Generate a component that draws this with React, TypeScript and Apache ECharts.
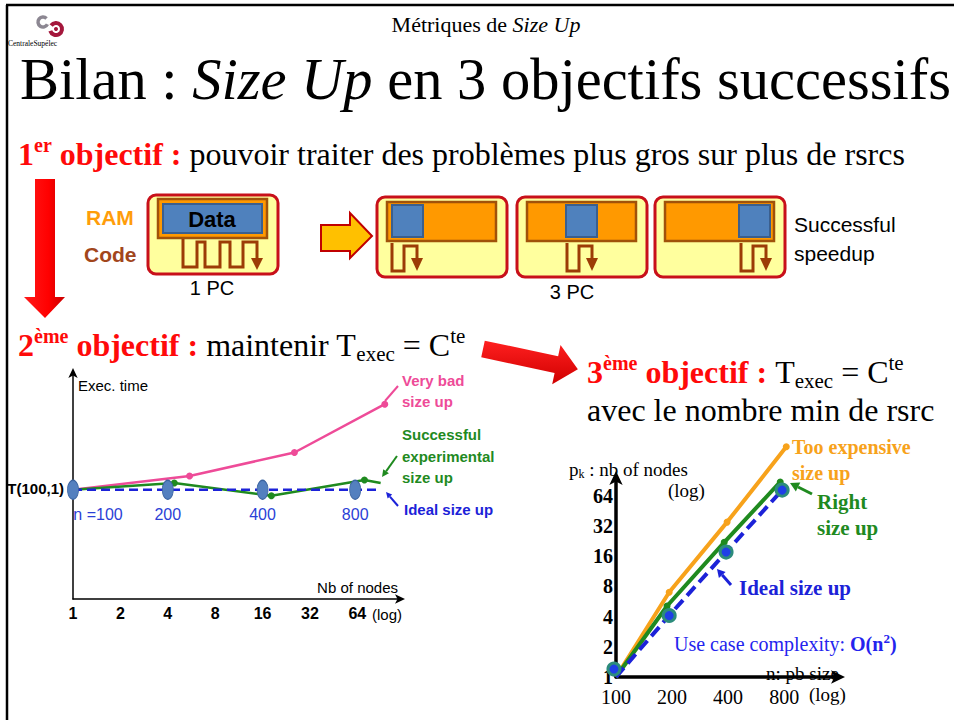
import React, { useEffect, useRef } from 'react';
import * as echarts from 'echarts';

const SERIF = '"Liberation Serif", "Times New Roman", serif';
const SANS = '"Liberation Sans", Arial, sans-serif';

// ---- Left chart: execution time vs number of nodes (log2) ----
const leftNodeTicks = [1, 2, 4, 8, 16, 32, 64];
const idealNodes = [1, 4, 16, 62];
const idealTime = [1, 1, 1, 1];
const idealSizeLabels = ['n =100', '200', '400', '800'];
const idealEndNodes = 90;
const veryBadNodes = [1, 5.5, 25.5, 95.6];
const veryBadTime = [1, 1.126, 1.342, 1.784];
const expNodes = [1, 4.4, 18.2, 71, 90];
const expTime = [1, 1.063, 0.946, 1.09, 1.063];

// ---- Right chart: nodes vs problem size (log2 / log2) ----
const sizeTicks = [100, 200, 400, 800];
const nodeTicks = [1, 2, 4, 8, 16, 32, 64];
const expensiveSize = [100, 193, 395, 821];
const expensiveNodes = [1, 7, 35, 197];
const rightSize = [100, 188, 381, 762];
const rightNodes = [1, 5.1, 22, 88];
const idealLineSize = [100, 193, 390, 780];
const idealLineNodes = [1, 4.1, 17.6, 73];
const idealMarkSize = [97.5, 193, 390, 780];
const idealMarkNodes = [1.2, 4.1, 17.6, 73];

const PINK = '#ee4b98';
const GREEN = '#1f8a1f';
const BLUE = '#1c22d8';
const ORANGE = '#f7a21b';
const RED = '#ff0a0a';

let ctx: CanvasRenderingContext2D | null = null;
function measure(text: string, font: string) {
  if (!ctx) ctx = document.createElement('canvas').getContext('2d');
  ctx!.font = font;
  return ctx!.measureText(text).width;
}

type Run = { t: string; size: number; weight?: string; style?: string; fill?: string; dy?: number; family?: string };

function runs(g: any[], x: number, y: number, list: Run[]) {
  let cx = x;
  for (const r of list) {
    const fam = r.family || SERIF;
    const font = `${r.style || 'normal'} ${r.weight || 'normal'} ${r.size}px ${fam}`;
    const lead = r.t.length - r.t.trimStart().length;
    const leadW = lead ? measure(r.t.slice(0, lead), font) : 0;
    g.push({
      type: 'text',
      x: cx + leadW,
      y: y + (r.dy || 0),
      style: {
        text: r.t.trim(),
        fontSize: r.size,
        fontWeight: r.weight || 'normal',
        fontStyle: r.style || 'normal',
        fontFamily: fam,
        fill: r.fill || '#000',
        align: 'left',
        verticalAlign: 'middle',
      },
    });
    cx += measure(r.t, font);
  }
  return cx;
}

function runsWidth(list: Run[]) {
  let w = 0;
  for (const r of list) {
    const fam = r.family || SERIF;
    w += measure(r.t, `${r.style || 'normal'} ${r.weight || 'normal'} ${r.size}px ${fam}`);
  }
  return w;
}

function txt(x: number, y: number, text: string, o: any = {}) {
  return {
    type: 'text',
    x,
    y,
    z: o.z ?? 1,
    style: {
      text,
      fontSize: o.size || 16,
      fontWeight: o.weight || 'normal',
      fontStyle: o.style || 'normal',
      fontFamily: o.family || SANS,
      fill: o.fill || '#000',
      align: o.align || 'left',
      verticalAlign: 'middle',
    },
  };
}

function arrow(g: any[], x1: number, y1: number, x2: number, y2: number, color: string, w: number, hl: number, hw: number) {
  const dx = x2 - x1, dy = y2 - y1;
  const len = Math.sqrt(dx * dx + dy * dy);
  const ux = dx / len, uy = dy / len;
  const bx = x2 - ux * hl, by = y2 - uy * hl;
  g.push({ type: 'line', shape: { x1, y1, x2: bx, y2: by }, style: { stroke: color, lineWidth: w } });
  g.push({
    type: 'polygon',
    shape: { points: [[x2, y2], [bx - uy * hw, by + ux * hw], [bx + uy * hw, by - ux * hw]] },
    style: { fill: color },
  });
}

function buildOption() {
  const g: any[] = [];

  // slide frame
  g.push({ type: 'line', shape: { x1: 7, y1: 5, x2: 7, y2: 720 }, style: { stroke: '#000', lineWidth: 2.5 } });
  g.push({ type: 'line', shape: { x1: 6, y1: 5, x2: 954, y2: 5 }, style: { stroke: '#000', lineWidth: 2.5 } });

  // logo
  g.push({ type: 'arc', shape: { cx: 43, cy: 22, r: 5, startAngle: Math.PI * 0.15, endAngle: Math.PI * 1.75 }, style: { stroke: '#8c8792', lineWidth: 3.5, fill: 'none' } });
  g.push({ type: 'arc', shape: { cx: 56, cy: 29, r: 6, startAngle: Math.PI * 1.2, endAngle: Math.PI * 2.9 }, style: { stroke: '#a4173c', lineWidth: 4, fill: 'none' } });
  g.push({ type: 'circle', shape: { cx: 56, cy: 29, r: 2 }, style: { fill: '#a4173c' } });
  g.push(txt(8, 43, 'CentraleSupélec', { size: 7.5, family: SERIF }));

  // header
  const head: Run[] = [{ t: 'Métriques de ', size: 22 }, { t: 'Size Up', size: 22, style: 'italic' }];
  runs(g, 486 - runsWidth(head) / 2, 24, head);

  // title
  runs(g, 20, 79, [
    { t: 'Bilan : ', size: 58.5 },
    { t: 'Size Up', size: 58.5, style: 'italic' },
    { t: ' en 3 objectifs successifs', size: 58.5 },
  ]);

  // objective 1
  runs(g, 18, 154, [
    { t: '1', size: 32, weight: 'bold', fill: RED },
    { t: 'er', size: 20, weight: 'bold', fill: RED, dy: -9 },
    { t: ' objectif :', size: 32, weight: 'bold', fill: RED },
    { t: ' pouvoir traiter des problèmes plus gros sur plus de rsrcs', size: 32 },
  ]);

  // red down arrow
  g.push({
    type: 'polygon',
    shape: { points: [[35, 179], [55, 179], [55, 297], [65, 297], [45, 318], [24, 297], [35, 297]] },
    style: {
      fill: { type: 'linear', x: 0, y: 0, x2: 1, y2: 0, colorStops: [{ offset: 0, color: '#ff1a1a' }, { offset: 0.6, color: '#ff0000' }, { offset: 1, color: '#c80000' }] },
    },
  });

  // RAM / Code labels
  g.push(txt(86, 217, 'RAM', { size: 21, weight: 'bold', fill: '#ff9d0a' }));
  g.push(txt(84, 254, 'Code', { size: 21, weight: 'bold', fill: '#a2461c' }));

  const YEL = '#ffff9e', BOXR = '#c8101a', ORG = '#ff9900', ORGB = '#a0520a', BL = '#4f81bd', BLB = '#3b5f8e', SQ = '#9c3c06';

  // 1 PC box
  g.push({ type: 'rect', shape: { x: 148, y: 195, width: 130, height: 79, r: 8 }, style: { fill: YEL, stroke: BOXR, lineWidth: 3 } });
  g.push({ type: 'rect', shape: { x: 158, y: 199, width: 109, height: 39 }, style: { fill: ORG, stroke: ORGB, lineWidth: 2.5 } });
  g.push({ type: 'rect', shape: { x: 163, y: 204, width: 99, height: 29 }, style: { fill: BL, stroke: BLB, lineWidth: 2 } });
  g.push(txt(212, 219, 'Data', { size: 22, weight: 'bold', align: 'center', z: 2 }));
  g.push({
    type: 'polyline',
    shape: { points: [[183, 239], [183, 267], [197, 267], [197, 242], [205, 242], [205, 267], [220, 267], [220, 242], [230, 242], [230, 267], [243, 267], [243, 242], [257, 242], [257, 261]] },
    style: { stroke: SQ, lineWidth: 3, fill: null },
  });
  g.push({ type: 'polygon', shape: { points: [[251, 258], [263, 258], [257, 270]] }, style: { fill: SQ } });
  g.push(txt(212, 288, '1 PC', { size: 20, align: 'center' }));

  // yellow arrow
  g.push({
    type: 'polygon',
    shape: { points: [[321, 225], [350, 225], [350, 213], [372, 236], [350, 258], [350, 251], [321, 251]] },
    style: { fill: '#ffc000', stroke: '#c00000', lineWidth: 2 },
  });

  // 3 PC boxes
  const boxX = [377, 517, 655];
  const dataX = [392, 566, 739];
  const sqX = [392, 567, 741];
  for (let i = 0; i < 3; i++) {
    g.push({ type: 'rect', shape: { x: boxX[i], y: 197, width: 130, height: 80, r: 8 }, style: { fill: YEL, stroke: BOXR, lineWidth: 3 } });
    g.push({ type: 'rect', shape: { x: boxX[i] + 10, y: 202, width: 109, height: 39 }, style: { fill: ORG, stroke: ORGB, lineWidth: 2.5 } });
    g.push({ type: 'rect', shape: { x: dataX[i], y: 205, width: 31, height: 32 }, style: { fill: BL, stroke: BLB, lineWidth: 2 } });
    const b = sqX[i];
    g.push({
      type: 'polyline',
      shape: { points: [[b, 243], [b, 271], [b + 12, 271], [b + 12, 246], [b + 25, 246], [b + 25, 261]] },
      style: { stroke: SQ, lineWidth: 3, fill: null },
    });
    g.push({ type: 'polygon', shape: { points: [[b + 19, 258], [b + 31, 258], [b + 25, 271]] }, style: { fill: SQ } });
  }
  g.push(txt(572, 292, '3 PC', { size: 20, align: 'center' }));
  g.push(txt(794, 224, 'Successful', { size: 21 }));
  g.push(txt(794, 253, 'speedup', { size: 21 }));

  // objective 2
  runs(g, 18, 345, [
    { t: '2', size: 32, weight: 'bold', fill: RED },
    { t: 'ème', size: 20, weight: 'bold', fill: RED, dy: -9 },
    { t: ' objectif :', size: 32, weight: 'bold', fill: RED },
    { t: ' maintenir T', size: 32 },
    { t: 'exec', size: 21, dy: 9 },
    { t: ' = C', size: 32 },
    { t: 'te', size: 21, dy: -9 },
  ]);

  // diagonal red arrow
  {
    const th = (12 * Math.PI) / 180, ox = 483, oy = 349;
    const L = 97, hl = 22, hw = 20, sw = 8.5;
    const loc = [[0, -sw], [L - hl, -sw], [L - hl, -hw], [L, 0], [L - hl, hw], [L - hl, sw], [0, sw]];
    const pts = loc.map(([a, b]) => [ox + a * Math.cos(th) - b * Math.sin(th), oy + a * Math.sin(th) + b * Math.cos(th)]);
    g.push({
      type: 'polygon',
      shape: { points: pts },
      style: {
        fill: { type: 'linear', x: 0, y: 0, x2: 0, y2: 1, colorStops: [{ offset: 0, color: '#ff2020' }, { offset: 1, color: '#d00000' }] },
      },
    });
  }

  // objective 3
  runs(g, 587, 372, [
    { t: '3', size: 32, weight: 'bold', fill: RED },
    { t: 'ème', size: 20, weight: 'bold', fill: RED, dy: -9 },
    { t: ' objectif :', size: 32, weight: 'bold', fill: RED },
    { t: ' T', size: 32 },
    { t: 'exec', size: 21, dy: 9 },
    { t: ' = C', size: 32 },
    { t: 'te', size: 21, dy: -9 },
  ]);
  runs(g, 587, 410, [{ t: 'avec le nombre min de rsrc', size: 32 }]);

  // left chart annotations
  g.push(txt(78, 385, 'Exec. time', { size: 15 }));
  g.push(txt(64, 488, 'T(100,1)', { size: 15, weight: 'bold', align: 'right' }));
  g.push(txt(398, 587, 'Nb of nodes', { size: 15, align: 'right' }));
  g.push(txt(372, 614, '(log)', { size: 15 }));
  g.push(txt(402, 380, 'Very bad', { size: 15, weight: 'bold', fill: PINK }));
  g.push(txt(402, 401, 'size up', { size: 15, weight: 'bold', fill: PINK }));
  g.push({ type: 'line', shape: { x1: 385, y1: 401, x2: 398, y2: 386 }, style: { stroke: PINK, lineWidth: 2 } });
  g.push(txt(402, 434, 'Successful', { size: 15, weight: 'bold', fill: GREEN }));
  g.push(txt(402, 456, 'experimental', { size: 15, weight: 'bold', fill: GREEN }));
  g.push(txt(402, 477, 'size up', { size: 15, weight: 'bold', fill: GREEN }));
  arrow(g, 397, 456, 382, 477, GREEN, 2, 7, 3.5);
  g.push(txt(404, 509, 'Ideal size up', { size: 15, weight: 'bold', fill: BLUE }));
  arrow(g, 398, 506, 386, 492, BLUE, 2, 6, 3);

  // right chart annotations
  runs(g, 569, 469, [
    { t: 'p', size: 19 },
    { t: 'k', size: 12, dy: 5 },
    { t: ' : nb of nodes', size: 19 },
  ]);
  g.push(txt(668, 490, '(log)', { size: 19, family: SERIF }));
  g.push(txt(766, 673, 'n: pb size', { size: 19, family: SERIF, z: 0 }));
  g.push(txt(809, 694, '(log)', { size: 19, family: SERIF }));
  g.push(txt(792, 447, 'Too expensive', { size: 20, family: SERIF, weight: 'bold', fill: ORANGE }));
  g.push(txt(792, 473, 'size up', { size: 20, family: SERIF, weight: 'bold', fill: ORANGE }));
  g.push(txt(817, 502, 'Right', { size: 21, family: SERIF, weight: 'bold', fill: GREEN }));
  g.push(txt(817, 528, 'size up', { size: 21, family: SERIF, weight: 'bold', fill: GREEN }));
  arrow(g, 812, 494, 790, 483, GREEN, 3, 9, 5);
  g.push(txt(739, 588, 'Ideal size up', { size: 21, family: SERIF, weight: 'bold', fill: BLUE }));
  arrow(g, 731, 585, 717, 569, BLUE, 3, 8, 4.5);
  runs(g, 674, 644, [
    { t: 'Use case complexity: ', size: 20, fill: '#2424ee' },
    { t: 'O(n', size: 20, weight: 'bold', fill: '#2424ee' },
    { t: '2', size: 13, weight: 'bold', fill: '#2424ee', dy: -6 },
    { t: ')', size: 20, weight: 'bold', fill: '#2424ee' },
  ]);

  const isInt = (v: number) => Math.abs(v - Math.round(v)) < 1e-6;
  const lx = (n: number) => Math.log2(n);
  const rx = (n: number) => Math.log2(n / 100);
  const ry = (p: number) => Math.log2(p);

  const arrowAxis = (w: number, size: number[]) => ({
    show: true,
    onZero: false,
    symbol: ['none', 'arrow'],
    symbolSize: size,
    symbolOffset: [0, size[1] / 2],
    lineStyle: { color: '#000', width: w },
  });

  return {
    animation: false,
    backgroundColor: '#fff',
    grid: [
      { left: 73, top: 373, width: 327, height: 226 },
      { left: 616, top: 478, width: 222, height: 199 },
    ],
    xAxis: [
      {
        type: 'value', gridIndex: 0, min: 0, max: 6.9, interval: 1,
        axisLine: arrowAxis(1.5, [7, 10]),
        axisTick: { show: false }, splitLine: { show: false },
        axisLabel: {
          showMaxLabel: false, margin: 6, color: '#000', fontFamily: SANS, fontWeight: 'bold', fontSize: 16,
          formatter: (v: number) => {
            const n = Math.pow(2, Math.round(v));
            return isInt(v) && leftNodeTicks.includes(n) ? String(n) : '';
          },
        },
      },
      {
        type: 'value', gridIndex: 1, min: 0, max: 3.96, interval: 1,
        axisLine: arrowAxis(3.5, [10, 14]),
        axisTick: { show: false }, splitLine: { show: false },
        axisLabel: {
          showMaxLabel: false, margin: 10, color: '#000', fontFamily: SERIF, fontSize: 20,
          formatter: (v: number) => {
            const n = 100 * Math.pow(2, Math.round(v));
            return isInt(v) && sizeTicks.includes(n) ? String(n) : '';
          },
        },
      },
    ],
    yAxis: [
      {
        type: 'value', gridIndex: 0, min: 0, max: 2.07,
        axisLine: arrowAxis(1.5, [7, 10]),
        axisTick: { show: false }, splitLine: { show: false }, axisLabel: { show: false },
      },
      {
        type: 'value', gridIndex: 1, min: 0, max: 6.59, interval: 1,
        axisLine: arrowAxis(3.5, [10, 14]),
        axisTick: { show: false }, splitLine: { show: false },
        axisLabel: {
          showMaxLabel: false, margin: 3, color: '#000', fontFamily: SERIF, fontWeight: 'bold', fontSize: 20,
          formatter: (v: number) => {
            const n = Math.pow(2, Math.round(v));
            return isInt(v) && nodeTicks.includes(n) ? String(n) : '';
          },
        },
      },
    ],
    series: [
      {
        type: 'line', xAxisIndex: 0, yAxisIndex: 0, z: 2,
        data: veryBadNodes.map((n, i) => ({ value: [lx(n), veryBadTime[i]], symbol: i === 0 ? 'none' : 'circle' })),
        symbolSize: 7, lineStyle: { color: PINK, width: 2.5 }, itemStyle: { color: PINK },
      },
      {
        type: 'line', xAxisIndex: 0, yAxisIndex: 0, z: 2,
        data: expNodes.map((n, i) => ({ value: [lx(n), expTime[i]], symbol: i === 0 || i === expNodes.length - 1 ? 'none' : 'circle' })),
        symbolSize: 7, lineStyle: { color: GREEN, width: 2.5 }, itemStyle: { color: GREEN },
      },
      {
        type: 'line', xAxisIndex: 0, yAxisIndex: 0, z: 3, symbol: 'none',
        data: [...idealNodes.map((n, i) => [lx(n), idealTime[i]]), [lx(idealEndNodes), idealTime[idealTime.length - 1]]],
        lineStyle: { color: BLUE, width: 2.5, type: [9, 5] },
      },
      {
        type: 'scatter', xAxisIndex: 0, yAxisIndex: 0, z: 4,
        symbol: 'circle', symbolSize: [11, 19],
        itemStyle: { color: '#5480bf', borderColor: '#3c64a0', borderWidth: 1, opacity: 1 },
        data: idealNodes.map((n, i) => ({
          value: [lx(n), idealTime[i]],
          label: {
            show: true, position: 'bottom', distance: 7, formatter: idealSizeLabels[i],
            color: '#2b3fd6', fontFamily: SANS, fontSize: 16, opacity: 1,
            offset: i === 0 ? [25, 0] : [0, 0],
          },
        })),
      },
      {
        type: 'line', xAxisIndex: 1, yAxisIndex: 1, z: 2, clip: false,
        data: expensiveSize.map((n, i) => ({ value: [rx(n), ry(expensiveNodes[i])], symbol: i === 0 ? 'none' : 'circle' })),
        symbolSize: 7, lineStyle: { color: ORANGE, width: 4 }, itemStyle: { color: ORANGE },
      },
      {
        type: 'line', xAxisIndex: 1, yAxisIndex: 1, z: 3, clip: false,
        data: rightSize.map((n, i) => ({ value: [rx(n), ry(rightNodes[i])], symbol: i === 0 ? 'none' : 'circle' })),
        symbolSize: 7, lineStyle: { color: GREEN, width: 4 }, itemStyle: { color: GREEN },
      },
      {
        type: 'line', xAxisIndex: 1, yAxisIndex: 1, z: 3, symbol: 'none', clip: false,
        data: idealLineSize.map((n, i) => [rx(n), ry(idealLineNodes[i])]),
        lineStyle: { color: BLUE, width: 4, type: [12, 6] },
      },
      {
        type: 'scatter', xAxisIndex: 1, yAxisIndex: 1, z: 4, clip: false,
        symbol: 'circle', symbolSize: 12,
        itemStyle: { color: '#1f3fe6', borderColor: '#2c8c7c', borderWidth: 3, opacity: 1 },
        data: idealMarkSize.map((n, i) => [rx(n), ry(idealMarkNodes[i])]),
      },
    ],
    graphic: { elements: g },
  };
}

export default function App() {
  const ref = useRef<HTMLDivElement>(null);
  useEffect(() => {
    const chart = echarts.init(ref.current!, null, { renderer: 'svg' });
    chart.setOption(buildOption() as any);
    return () => chart.dispose();
  }, []);
  return (
    <div
      ref={ref}
      style={{ position: 'absolute', left: 0, top: 0, width: 954, height: 720, background: '#fff' }}
    />
  );
}
